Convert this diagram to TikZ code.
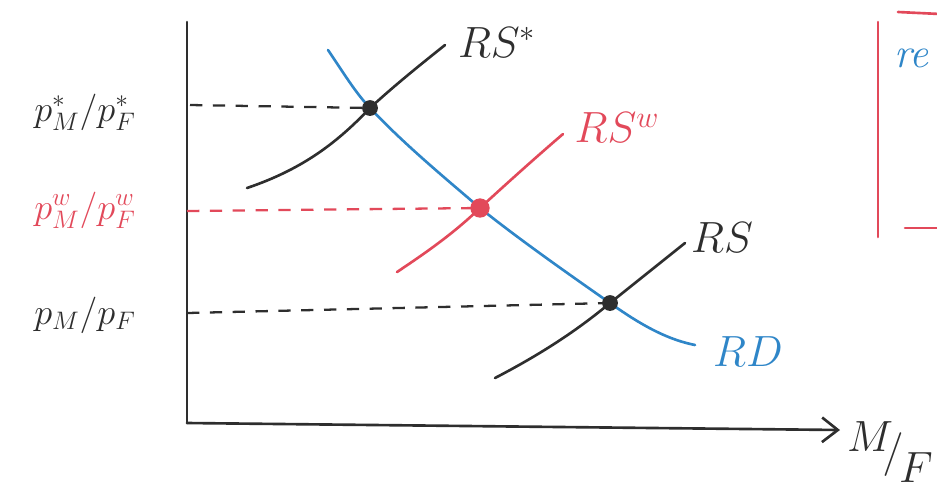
\documentclass[tikz,border=0pt]{standalone}
\usetikzlibrary{arrows.meta}
\definecolor{ink}{HTML}{2E2E2E}
\definecolor{bluei}{HTML}{2F86C8}
\definecolor{redi}{HTML}{E2495A}
\begin{document}
\begin{tikzpicture}[x=0.02cm,y=-0.02cm,
  pen/.style={line width=1.5pt,line cap=round},
  dashl/.style={line width=1.3pt,dash pattern=on 7pt off 6pt},
  lab/.style={font=\fontsize{24}{28}\selectfont},
  plab/.style={font=\fontsize{21}{25}\selectfont,inner sep=1pt},
  dot/.style={circle,fill=ink,inner sep=0pt,minimum size=9pt}]
\useasboundingbox (0,0) rectangle (937,485);
\clip (0,0) rectangle (937,485);
% axes
\coordinate (ytop) at (187,22);
\coordinate (orig) at (187,423);
\coordinate (xend) at (840,430);
\draw[pen,ink] (ytop) -- (orig);
\draw[pen,ink,-{Straight Barb[length=9pt,width=14pt,line width=1.5pt]}] (orig) -- (xend);
% intersection points
\coordinate (eS) at (370,108);
\coordinate (eW) at (480,208);
\coordinate (eR) at (610,303);
% curve ends
\coordinate (dA) at (328,50);  \coordinate (dB) at (695,345);
\coordinate (sA) at (247,188); \coordinate (sB) at (445,45);
\coordinate (wA) at (397,272); \coordinate (wB) at (563,134);
\coordinate (rA) at (495,378); \coordinate (rB) at (685,243);
% curves
\draw[pen,bluei] (dA) .. controls (345,75) and (355,92) .. (eS)
  .. controls (405,145) and (445,178) .. (eW)
  .. controls (520,240) and (570,275) .. (eR)
  .. controls (645,328) and (670,340) .. (dB);
\draw[pen,ink] (sA) .. controls (300,170) and (335,145) .. (eS)
  .. controls (395,85) and (420,65) .. (sB);
\draw[pen,redi] (wA) .. controls (430,250) and (455,232) .. (eW)
  .. controls (505,185) and (535,158) .. (wB);
\draw[pen,ink] (rA) .. controls (545,352) and (580,328) .. (eR)
  .. controls (635,283) and (660,263) .. (rB);
% dashed guides
\coordinate (yS) at (190,105);
\coordinate (yW) at (187,211);
\coordinate (yR) at (187,313);
\draw[dashl,ink] (yS) -- (eS);
\draw[dashl,redi] (yW) -- (eW);
\draw[dashl,ink] (yR) -- (eR);
% dots
\node[dot] at (eS) {};
\node[dot,fill=redi,minimum size=11pt] at (eW) {};
\node[dot] at (eR) {};
% curve labels
\node[lab,ink] (lS) at (497,42) {$RS^{*}$};
\node[lab,redi] (lW) at (617,128) {$RS^{w}$};
\node[lab,ink] (lR) at (722,238) {$RS$};
\node[lab,bluei] (lD) at (748,352) {$RD$};
% price labels
\node[plab,ink] (pS) at (85,112) {$p_M^{*}/p_F^{*}$};
\node[plab,redi] (pW) at (85,210) {$p_M^{w}/p_F^{w}$};
\node[plab,ink] (pR) at (85,315) {$p_M/p_F$};
% axis label
\node[lab,ink,inner sep=0pt] (aM) at (870,437) {$M$};
\node[ink,inner sep=0pt,font=\fontsize{30}{34}\selectfont] (aS) at (893,455) {$/$};
\node[lab,ink,inner sep=0pt] (aF) at (916,468) {$F$};
% red box at right edge
\coordinate (bt) at (878,22);
\coordinate (bb) at (878,237);
\draw[pen,redi] (bt) -- (bb);
\coordinate (t1) at (898,12);
\coordinate (t2) at (940,14);
\draw[pen,redi] (t1) -- (t2);
\coordinate (b1) at (905,228);
\coordinate (b2) at (940,228);
\draw[pen,redi] (b1) -- (b2);
\node[lab,bluei,anchor=west] (re) at (888,58) {\itshape re};
\end{tikzpicture}
\end{document}
